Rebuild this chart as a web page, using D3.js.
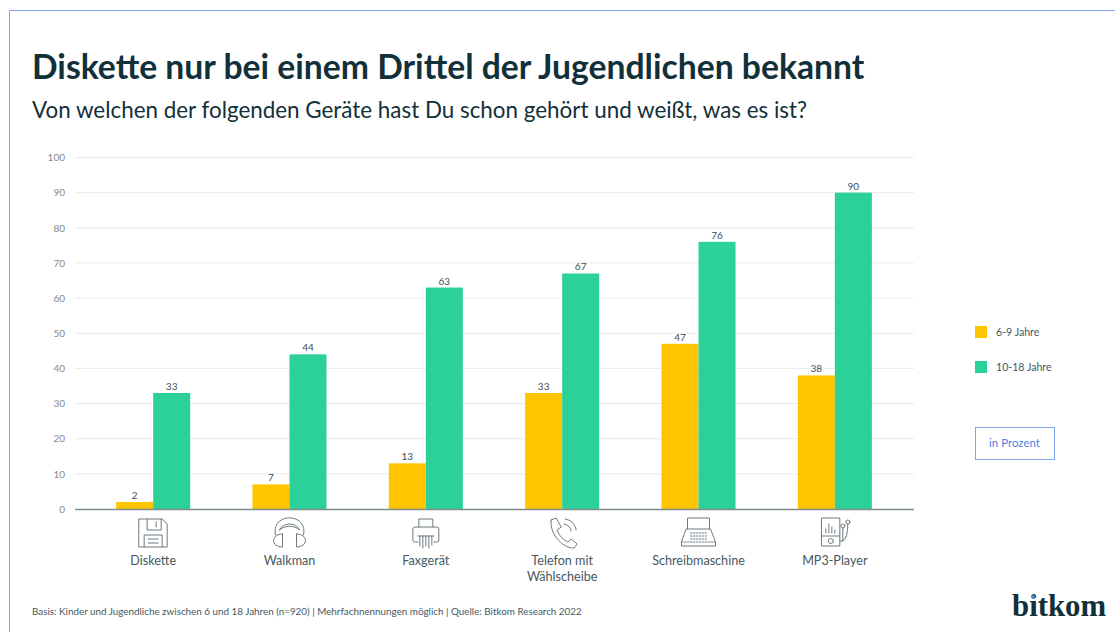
<!DOCTYPE html>
<html>
<head>
<meta charset="utf-8">
<script src="https://cdn.jsdelivr.net/npm/d3@7"></script>
<style>
  html, body { margin: 0; padding: 0; background: #fff; }
  svg { display: block; }
  text { font-family: Lato, sans-serif; }
  .icon * { fill: none; stroke: #6d7a80; stroke-width: 1; stroke-linecap: round; stroke-linejoin: round; }
</style>
</head>
<body>
<div id="chart"></div>
<script>
const categories = ["Diskette", "Walkman", "Faxgerät", "Telefon mit|Wählscheibe", "Schreibmaschine", "MP3-Player"];
const seriesNames = ["6-9 Jahre", "10-18 Jahre"];
const youngValues = [2, 7, 13, 33, 47, 38];
const olderValues = [33, 44, 63, 67, 76, 90];
const yTicks = [0, 10, 20, 30, 40, 50, 60, 70, 80, 90, 100];
const colors = ["#ffc600", "#2bd198"];

const titleText = "Diskette nur bei einem Drittel der Jugendlichen bekannt";
const subtitleText = "Von welchen der folgenden Geräte hast Du schon gehört und weißt, was es ist?";
const footerText = "Basis: Kinder und Jugendliche zwischen 6 und 18 Jahren (n=920) | Mehrfachnennungen möglich | Quelle: Bitkom Research 2022";

const dark = "#12303a";
const blue = "#7ea4ee";

const svg = d3.select("#chart").append("svg").attr("width", 1115).attr("height", 632);

svg.append("rect").attr("width", 1115).attr("height", 632).attr("fill", "#fff");

// thin blue frame, open on the right and bottom
svg.append("path")
    .attr("d", "M9.5,632V10.5H1115")
    .attr("fill", "none")
    .attr("stroke", blue)
    .attr("stroke-width", 1);

svg.append("text").attr("x", 32).attr("y", 79)
    .attr("font-size", 33.7).attr("font-weight", 700).attr("fill", dark)
    .text(titleText);
svg.append("text").attr("x", 32).attr("y", 118)
    .attr("font-size", 22.4).attr("fill", dark)
    .text(subtitleText);

const xScale = d3.scaleBand().domain(categories).range([85, 903]).paddingInner(0.457).paddingOuter(0.2285);
const innerScale = d3.scaleBand().domain(seriesNames).range([0, xScale.bandwidth()]);
const yScale = d3.scaleLinear().domain([0, 100]).range([509, 157.5]);

// grid
svg.append("g").selectAll("line").data(yTicks.filter(d => d > 0)).join("line")
    .attr("x1", 75).attr("x2", 914)
    .attr("y1", d => yScale(d)).attr("y2", d => yScale(d))
    .attr("stroke", "#e9ebeb").attr("stroke-width", 1);

// y axis
const yAxis = d3.axisLeft(yScale).tickValues(yTicks).tickSize(0).tickPadding(0);
const yG = svg.append("g").attr("transform", "translate(65,0)").call(yAxis);
yG.select(".domain").remove();
yG.selectAll("text").attr("font-size", 10).attr("fill", "#85898b").style("font-family", "Lato, sans-serif");

// bars
const rows = categories.map((c, i) => ({ cat: c, values: [youngValues[i], olderValues[i]] }));
const groups = svg.append("g").selectAll("g").data(rows).join("g")
    .attr("transform", d => "translate(" + xScale(d.cat) + ",0)");

const cells = d => d.values.map((v, i) => ({ name: seriesNames[i], value: v, i: i }));

groups.selectAll("rect").data(cells).join("rect")
    .attr("x", d => innerScale(d.name))
    .attr("y", d => yScale(d.value))
    .attr("width", innerScale.bandwidth())
    .attr("height", d => yScale(0) - yScale(d.value))
    .attr("fill", d => colors[d.i]);

groups.selectAll("text").data(cells).join("text")
    .attr("x", d => innerScale(d.name) + innerScale.bandwidth() / 2)
    .attr("y", d => yScale(d.value) - 3)
    .attr("text-anchor", "middle")
    .attr("font-size", 10)
    .attr("fill", "#3c4f56")
    .text(d => d.value);

// baseline
svg.append("line").attr("x1", 75).attr("x2", 914).attr("y1", 509.5).attr("y2", 509.5)
    .attr("stroke", "#7f8c90").attr("stroke-width", 1.5);

// category labels
const catCenter = c => xScale(c) + xScale.bandwidth() / 2;
svg.append("g").selectAll("text").data(categories).join("text")
    .attr("text-anchor", "middle")
    .attr("font-size", 12.6)
    .attr("fill", "#47585f")
    .each(function (c) {
        d3.select(this).selectAll("tspan").data(c.split("|")).join("tspan")
            .attr("x", catCenter(c))
            .attr("y", (d, i) => 564.5 + i * 16)
            .text(d => d);
    });

// icons, drawn around the centre of each category
const iconDraw = [
    g => { // floppy
        g.append("path").attr("d", "M-14,-14H9L14,-9V14H-14Z");
        g.append("path").attr("d", "M-6,-14V-3H8V-14M3,-11V-6");
        g.append("path").attr("d", "M-9,14V2H9V14M-5,6H5M-5,10H5");
    },
    g => { // headphones
        g.append("path").attr("d", "M-14,2C-19,-21 19,-21 14,2");
        g.append("path").attr("d", "M-10,-3C-7,-11 7,-11 10,-3C5,-8 -5,-8 -10,-3");
        g.append("path").attr("d", "M-7,1V14C-19,14 -19,1 -7,1ZM7,1V14C19,14 19,1 7,1Z");
    },
    g => { // shredder
        g.append("path").attr("d", "M-7,-6V-14H7V-6");
        g.append("path").attr("d", "M-8,9H-11Q-13,9 -13,7V-4Q-13,-6 -11,-6H11Q13,-6 13,-4V7Q13,9 11,9H8");
        g.append("path").attr("d", "M-8,3H8M-6,3V13M-3,3V15M0,3V13M3,3V15M6,3V12");
    },
    g => { // phone
        g.append("path").attr("d", "M-11,-13L-6,-15L-1,-6L-5,-3C-3,3 1,7 6,9L9,6L15,11L12,15C3,16 -13,3 -11,-13Z");
        g.append("path").attr("d", "M2,-9C6,-8 8,-6 9,-2M3,-14C9,-13 13,-9 14,-3");
    },
    g => { // typewriter
        g.append("path").attr("d", "M-11,-4V-15H11V-4");
        g.append("path").attr("d", "M-12,-4H12L17,9V13H-17V9Z");
        g.append("path").attr("d", "M-17,9H17M-8,0H8M-8,3H8M-8,6H8").attr("stroke-dasharray", "1.5 1.5");
    },
    g => { // mp3 player
        g.append("path").attr("d", "M-13,-15H5V13H-13Z M-13,3H5");
        g.append("path").attr("d", "M-9,0V-4M-6,0V-9M-3,0V-6M0,0V-3");
        g.append("circle").attr("cx", -4).attr("cy", 8).attr("r", 2.5);
        g.append("path").attr("d", "M5,8H8V-5M8,8Q13,6 13,-9");
        g.append("circle").attr("cx", 8).attr("cy", -7).attr("r", 2);
        g.append("circle").attr("cx", 13).attr("cy", -11).attr("r", 2);
    }
];
categories.forEach((c, i) => {
    const g = svg.append("g").attr("class", "icon").attr("transform", "translate(" + catCenter(c) + ",533)");
    iconDraw[i](g);
});

// legend
const legend = svg.append("g").selectAll("g").data(seriesNames).join("g")
    .attr("transform", (d, i) => "translate(975," + (326 + i * 35) + ")");
legend.append("rect").attr("width", 12).attr("height", 12).attr("fill", (d, i) => colors[i]);
legend.append("text").attr("x", 21).attr("y", 10).attr("font-size", 10.6).attr("fill", "#47585f").text(d => d);

// unit box
svg.append("rect").attr("x", 975.5).attr("y", 427.5).attr("width", 79).attr("height", 32)
    .attr("fill", "#fff").attr("stroke", blue);
svg.append("text").attr("x", 1014.5).attr("y", 447).attr("text-anchor", "middle")
    .attr("font-size", 11.5).attr("fill", "#4d82e6").text("in Prozent");

// footer and wordmark
svg.append("text").attr("x", 32).attr("y", 615).attr("font-size", 9.85).attr("fill", "#47585f").text(footerText);
svg.append("text").attr("x", 1012).attr("y", 616)
    .attr("font-size", 30.8).attr("font-weight", 700).attr("fill", dark)
    .style("font-family", '"Liberation Serif", serif')
    .text("bitkom");
svg.append("circle").attr("cx", 1033.2).attr("cy", 597).attr("r", 2).attr("fill", "#4d82e6");
</script>
</body>
</html>
